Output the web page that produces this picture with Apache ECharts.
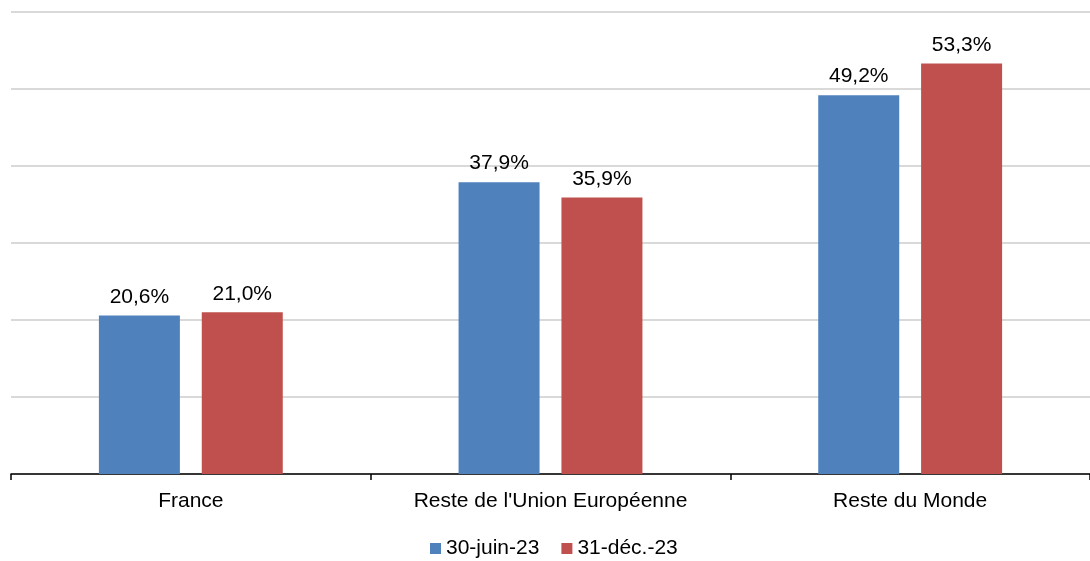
<!DOCTYPE html>
<html><head><meta charset="utf-8">
<script src="https://cdn.jsdelivr.net/npm/echarts@6/dist/echarts.min.js"></script>
<style>html,body{margin:0;padding:0;background:#fff}#c{width:1090px;height:561px}</style>
</head><body><div id="c"></div>
<script>
const categories = ["France", "Reste de l'Union Européenne", "Reste du Monde"];
const seriesNames = ["30-juin-23", "31-déc.-23"];
const juin23 = [20.6, 37.9, 49.2];
const dec23 = [21.0, 35.9, 53.3];
const colors = ["#4F81BD", "#C0504D"];
const font = "'Liberation Sans', Arial, sans-serif";
const chart = echarts.init(document.getElementById('c'));
const lbl = {
  show: true, position: 'top', distance: 8, color: '#000', fontSize: 21, fontFamily: font,
  formatter: p => p.value.toFixed(1).replace('.', ',') + '%'
};
chart.setOption({
  animation: false,
  legend: {
    top: 533, left: 425, itemWidth: 11, itemHeight: 11, itemGap: 22,
    icon: 'rect',
    textStyle: { fontSize: 21, fontFamily: font, color: '#000' },
    data: seriesNames
  },
  grid: { left: 11, right: 0, top: 12, bottom: 87, containLabel: false },
  xAxis: {
    type: 'category', data: categories,
    axisLine: { lineStyle: { color: '#000', width: 1.5 } },
    axisTick: { show: true, length: 6, inside: false, lineStyle: { color: '#000', width: 1.5 } },
    axisLabel: { fontSize: 21, fontFamily: font, color: '#000', margin: 17 }
  },
  yAxis: {
    type: 'value', min: 0, max: 60, interval: 10,
    axisLabel: { show: false }, axisLine: { show: false }, axisTick: { show: false },
    splitLine: { lineStyle: { color: '#D9D9D9', width: 2 } }
  },
  series: [
    { name: seriesNames[0], type: 'bar', data: juin23, barWidth: 81, barGap: '27%', itemStyle: { color: colors[0] }, label: lbl },
    { name: seriesNames[1], type: 'bar', data: dec23, barWidth: 81, itemStyle: { color: colors[1] }, label: lbl }
  ]
});
</script></body></html>
